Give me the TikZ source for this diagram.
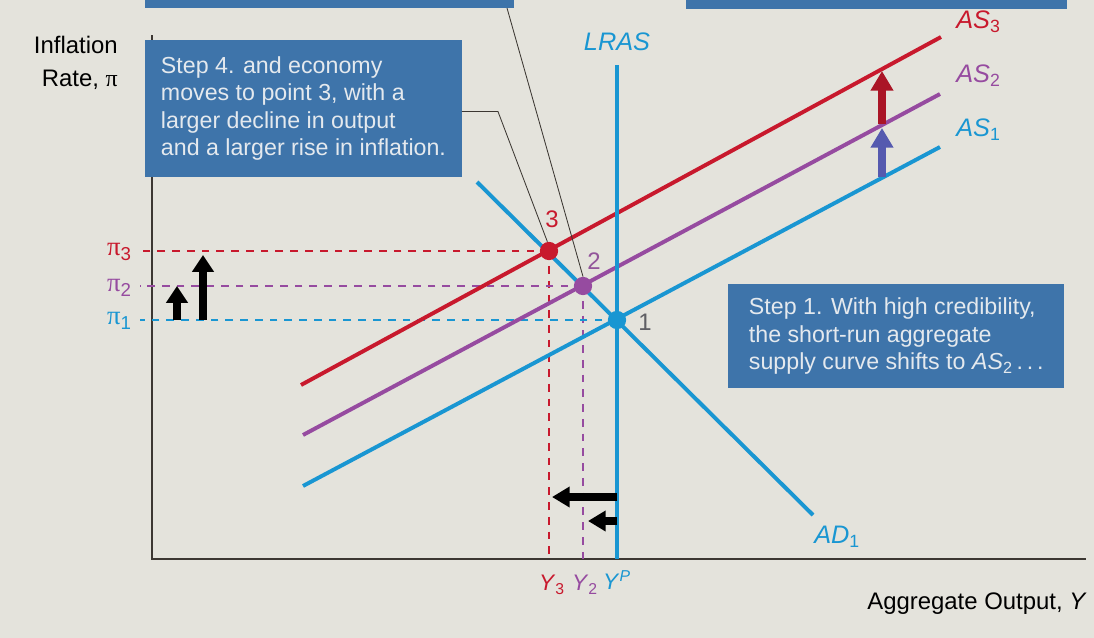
\documentclass[tikz,border=0pt]{standalone}
\usepackage{fontspec}
\setmainfont{Liberation Sans}
\newfontfamily\pifont{Liberation Serif}
\usetikzlibrary{arrows.meta,positioning}

\definecolor{paper}{RGB}{228,227,220}
\definecolor{boxblue}{RGB}{62,116,170}
\definecolor{boxtext}{RGB}{228,233,238}
\definecolor{lrblue}{RGB}{25,150,210}
\definecolor{aspurple}{RGB}{150,75,160}
\definecolor{asred}{RGB}{200,25,45}
\definecolor{shiftblue}{RGB}{85,90,175}
\definecolor{axisgray}{RGB}{60,55,50}
\definecolor{ptgray}{RGB}{95,95,100}

\tikzset{
  axis/.style={line width=1pt, axisgray},
  curve/.style={line width=2.8pt},
  guide/.style={line width=0.9pt, dash pattern=on 5.5pt off 5pt},
  leader/.style={line width=0.6pt, axisgray},
  stepbox/.style={fill=boxblue, text=boxtext, align=left, inner sep=0pt,
    font=\fontsize{16.5}{19.6}\selectfont},
  dot/.style={circle, inner sep=0pt, minimum size=13pt},
  lbl/.style={font=\fontsize{17}{20}\selectfont, inner sep=0pt},
  ylbl/.style={font=\fontsize{16}{18}\selectfont, inner sep=0pt},
  pilbl/.style={font=\fontsize{19}{20}\selectfont, inner sep=0pt, anchor=east},
  upshift/.style={line width=5pt, -{Triangle[width=15pt,length=12pt]}},
  outshift/.style={line width=5pt, black, -{Triangle[width=14pt,length=12.5pt]}},
  asshift/.style={line width=5.5pt, -{Triangle[width=15.5pt,length=14pt]}},
}

\begin{document}
\begin{tikzpicture}[x=0.025cm, y=-0.025cm]
  \useasboundingbox (0,0) rectangle (1094,638);
  \fill[paper] (0,0) rectangle (1094,638);

  % boxes running in from above
  \node[fill=boxblue, inner sep=0pt, minimum width=262pt, minimum height=5.7pt, anchor=south west] (step3) at (145,8) {};
  \node[fill=boxblue, inner sep=0pt, minimum width=271pt, minimum height=6.4pt, anchor=south west] (step2) at (686,9) {};
  \coordinate (lead3) at (507,8);

  % AXES
  \coordinate (O) at (152,559);
  \coordinate (tk) at (140,559);
  \draw[axis] (152,35) -- (O) -- (1086,559);
  \node[lbl, align=right, anchor=north east, font=\fontsize{17}{23.4}\selectfont] (yaxis) at (118,36) {Inflation\\Rate, {\pifont π}};
  \node[lbl, anchor=east] (xaxis) at (1087,604) {Aggregate Output, \textit{Y}};

  % CURVES
  \coordinate (p1) at (617,320);
  \coordinate (p2) at (583,286);
  \coordinate (p3) at (549,251);
  \coordinate (as1a) at (303,486); \coordinate (as1b) at (940,147);
  \coordinate (as2a) at (303,435); \coordinate (as2b) at (940,94);
  \coordinate (as3a) at (301,385); \coordinate (as3b) at (941,37);
  \coordinate (lra) at (617,65);
  \coordinate (ada) at (477,182); \coordinate (adb) at (813,515);

  % GUIDES
  \draw[guide, asred] (p3) -- (p3 -| tk);
  \draw[guide, asred] (p3) -- (p3 |- O);
  \draw[guide, aspurple] (p2) -- (p2 -| tk);
  \draw[guide, aspurple] (p2) -- (p2 |- O);
  \draw[guide, lrblue] (p1) -- (p1 -| tk);

  \draw[curve, lrblue] (ada) -- (adb);
  \draw[curve, lrblue] (as1a) -- (as1b);
  \draw[curve, aspurple] (as2a) -- (as2b);
  \draw[curve, asred] (as3a) -- (as3b);
  \draw[curve, lrblue] (lra) -- (lra |- O);

  \node[dot, fill=lrblue] (d1) at (p1) {};
  \node[dot, fill=aspurple] (d2) at (p2) {};
  \node[dot, fill=asred] (d3) at (p3) {};
  \node[lbl, text=ptgray] (n1) at (645,322) {1};
  \node[lbl, text=aspurple!80!gray] (n2) at (594,261) {2};
  \node[lbl, text=asred] (n3) at (552,219) {3};

  \node[lbl, text=lrblue, font=\fontsize{18}{20}\selectfont\itshape] (lras) at (617,42) {LRAS};
  \node[lbl, text=asred, anchor=west, font=\fontsize{18}{20}\selectfont] (as3) at (956,22) {\textit{AS}\textsubscript{3}};
  \node[lbl, text=aspurple, anchor=west, font=\fontsize{18}{20}\selectfont] (as2) at (956,76) {\textit{AS}\textsubscript{2}};
  \node[lbl, text=lrblue, anchor=west, font=\fontsize{18}{20}\selectfont] (as1) at (956,130) {\textit{AS}\textsubscript{1}};
  \node[lbl, text=lrblue, anchor=west, font=\fontsize{18}{20}\selectfont] (ad1) at (814,537) {\textit{AD}\textsubscript{1}};

  % LEVELS
  \node[pilbl, text=asred] (pi3) at (132,252) {{\pifont π}\textsubscript{3}};
  \node[pilbl, text=aspurple] (pi2) at (132,288) {{\pifont π}\textsubscript{2}};
  \node[pilbl, text=lrblue] (pi1) at (132,321) {{\pifont π}\textsubscript{1}};
  \node[ylbl, text=asred] (y3) at (552,585) {\textit{Y}\textsubscript{3}};
  \node[ylbl, text=aspurple] (y2) at (585,585) {\textit{Y}\textsubscript{2}};
  \node[ylbl, text=lrblue] (yp) at (617,580) {\textit{Y}\textsuperscript{\textit{P}}};

  % SHIFTS
  \coordinate (u1) at (177,320); \coordinate (u1t) at (177,286);
  \coordinate (u2) at (203,320); \coordinate (u2t) at (203,255);
  \draw[upshift] (u1) -- (u1t);
  \draw[upshift] (u2) -- (u2t);
  \coordinate (l1) at (617,497); \coordinate (l1t) at (552,497);
  \coordinate (l2) at (617,521); \coordinate (l2t) at (588,521);
  \draw[outshift] (l1) -- (l1t);
  \draw[outshift] (l2) -- (l2t);
  \coordinate (r1) at (882,177); \coordinate (r1t) at (882,128);
  \coordinate (r2) at (882,124); \coordinate (r2t) at (882,71);
  \draw[asshift, shiftblue] (r1) -- (r1t);
  \draw[asshift, asred!85!black] (r2) -- (r2t);

  % STEP BOXES
  \node[stepbox, anchor=north west, minimum width=225pt, minimum height=97pt] (step4) at (145,40)
    {Step 4. and economy\\moves to point 3, with a\\larger decline in output\\and a larger rise in inflation.};
  \node[stepbox, anchor=north west, minimum width=239pt, minimum height=74pt] (step1) at (728,284)
    {Step 1. With high credibility,\\the short-run aggregate\\supply curve shifts to \textit{AS}\textsubscript{2}\,.\,.\,.};
  \draw[leader] (step4.east) ++(0,3) -- ++(36,0) -- (d3.100);
  \draw[leader] (lead3) -- (d2.north);
\end{tikzpicture}
\end{document}
